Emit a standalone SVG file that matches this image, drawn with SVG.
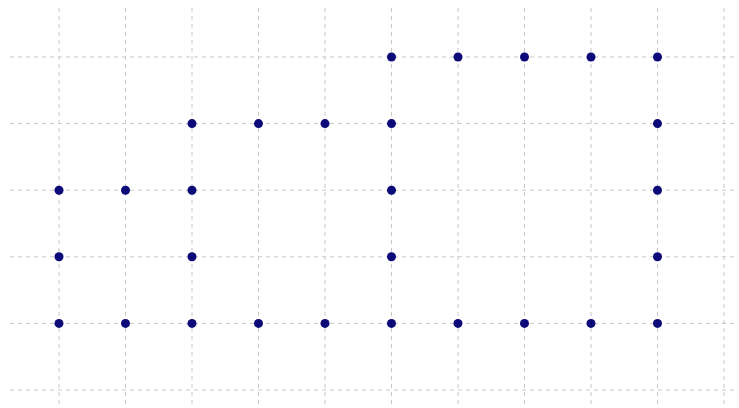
<svg xmlns="http://www.w3.org/2000/svg" width="739" height="408" viewBox="0 0 739 408">
<style>
.g{stroke:#c8c8c8;stroke-width:1;stroke-dasharray:4,4;fill:none}
.d{fill:#0c0a78}
</style>
<rect width="739" height="408" fill="#fff"/>
<g id="grid" class="g">
<path d="M59 8V406M125.5 8V406M192 8V406M258.5 8V406M325 8V406M391.5 8V406M458 8V406M524.5 8V406M591 8V406M657.5 8V406M724 8V406"/>
<path d="M10 57H735M10 123.6H735M10 190.2H735M10 256.8H735M10 323.4H735M10 390H735"/>
</g>
<g id="dots" class="d">
<circle cx="391.5" cy="57" r="4.5"/><circle cx="458" cy="57" r="4.5"/><circle cx="524.5" cy="57" r="4.5"/><circle cx="591" cy="57" r="4.5"/><circle cx="657.5" cy="57" r="4.5"/>
<circle cx="192" cy="123.6" r="4.5"/><circle cx="258.5" cy="123.6" r="4.5"/><circle cx="325" cy="123.6" r="4.5"/><circle cx="391.5" cy="123.6" r="4.5"/><circle cx="657.5" cy="123.6" r="4.5"/>
<circle cx="59" cy="190.2" r="4.5"/><circle cx="125.5" cy="190.2" r="4.5"/><circle cx="192" cy="190.2" r="4.5"/><circle cx="391.5" cy="190.2" r="4.5"/><circle cx="657.5" cy="190.2" r="4.5"/>
<circle cx="59" cy="256.8" r="4.5"/><circle cx="192" cy="256.8" r="4.5"/><circle cx="391.5" cy="256.8" r="4.5"/><circle cx="657.5" cy="256.8" r="4.5"/>
<circle cx="59" cy="323.4" r="4.5"/><circle cx="125.5" cy="323.4" r="4.5"/><circle cx="192" cy="323.4" r="4.5"/><circle cx="258.5" cy="323.4" r="4.5"/><circle cx="325" cy="323.4" r="4.5"/><circle cx="391.5" cy="323.4" r="4.5"/><circle cx="458" cy="323.4" r="4.5"/><circle cx="524.5" cy="323.4" r="4.5"/><circle cx="591" cy="323.4" r="4.5"/><circle cx="657.5" cy="323.4" r="4.5"/>
</g>
</svg>
